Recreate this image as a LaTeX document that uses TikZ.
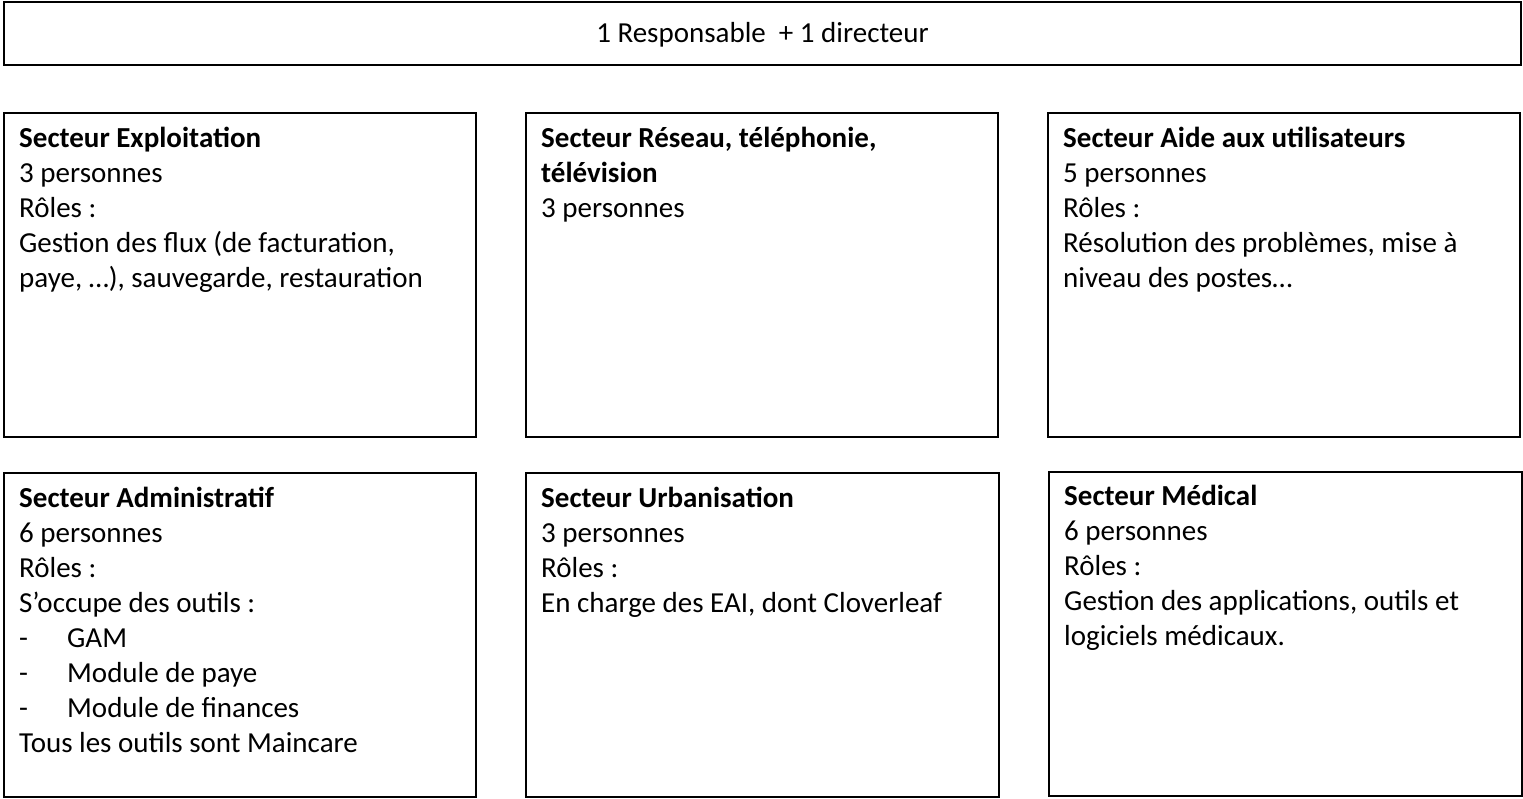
\documentclass[tikz,border=0pt]{standalone}
\usepackage{fontspec}
\setmainfont{Carlito}
\usetikzlibrary{positioning}

\begin{document}
\begin{tikzpicture}[
  x=1pt,y=1pt,
  sector/.style={draw=black,line width=1.6pt,outer sep=0pt,inner sep=0pt,
    minimum width=472pt,minimum height=324pt},
  txt/.style={anchor=north west,inner sep=0pt,align=left,
    font=\fontsize{29}{35}\selectfont}
]
  \useasboundingbox (0,0) rectangle (1523,-799);

  % Top banner
  \node[draw=black,line width=1.6pt,outer sep=0pt,minimum width=1517pt,
    minimum height=63pt,text height=22pt,text depth=3pt,
    font=\fontsize{29}{35}\selectfont] (head) at (762.5,-33.5)
    {1 Responsable\ \ + 1 directeur};

  % Sector boxes, first row
  \node[sector] (expl) at (240,-275) {};
  \node[sector] (reseau) at (762,-275) {};
  \node[sector] (aide) at (1284,-275) {};

  % Sector boxes, second row
  \node[sector] (admin) at (240,-635) {};
  \node[sector, minimum width=473pt] (urba) at (762.5,-635) {};
  \node[sector, minimum width=473pt] (medic) at (1285.5,-634) {};

  % Texts
  \node[txt] (explT) at ([xshift=15pt,yshift=-9.5pt]expl.north west)
    {\strut\textbf{Secteur Exploitation}\\3 personnes\\Rôles :\\
     Gestion des flux (de facturation,\\paye, \dots), sauvegarde, restauration};
  \node[txt] (reseauT) at ([xshift=15pt,yshift=-9.5pt]reseau.north west)
    {\strut\textbf{Secteur Réseau, téléphonie,}\\\textbf{télévision}\\3 personnes};
  \node[txt] (aideT) at ([xshift=15pt,yshift=-9.5pt]aide.north west)
    {\strut\textbf{Secteur Aide aux utilisateurs}\\5 personnes\\Rôles :\\
     Résolution des problèmes, mise à\\niveau des postes\dots};
  \node[txt] (adminT) at ([xshift=15pt,yshift=-9.5pt]admin.north west)
    {\strut\textbf{Secteur Administratif}\\6 personnes\\Rôles :\\S’occupe des outils :\\
     \makebox[48pt][l]{-}GAM\\\makebox[48pt][l]{-}Module de paye\\
     \makebox[48pt][l]{-}Module de finances\\Tous les outils sont Maincare};
  \node[txt] (urbaT) at ([xshift=15pt,yshift=-9.5pt]urba.north west)
    {\strut\textbf{Secteur Urbanisation}\\3 personnes\\Rôles :\\
     En charge des EAI, dont Cloverleaf};
  \node[txt] (medicT) at ([xshift=15pt,yshift=-8.5pt]medic.north west)
    {\strut\textbf{Secteur Médical}\\6 personnes\\Rôles :\\
     Gestion des applications, outils et\\logiciels médicaux.};
\end{tikzpicture}
\end{document}
